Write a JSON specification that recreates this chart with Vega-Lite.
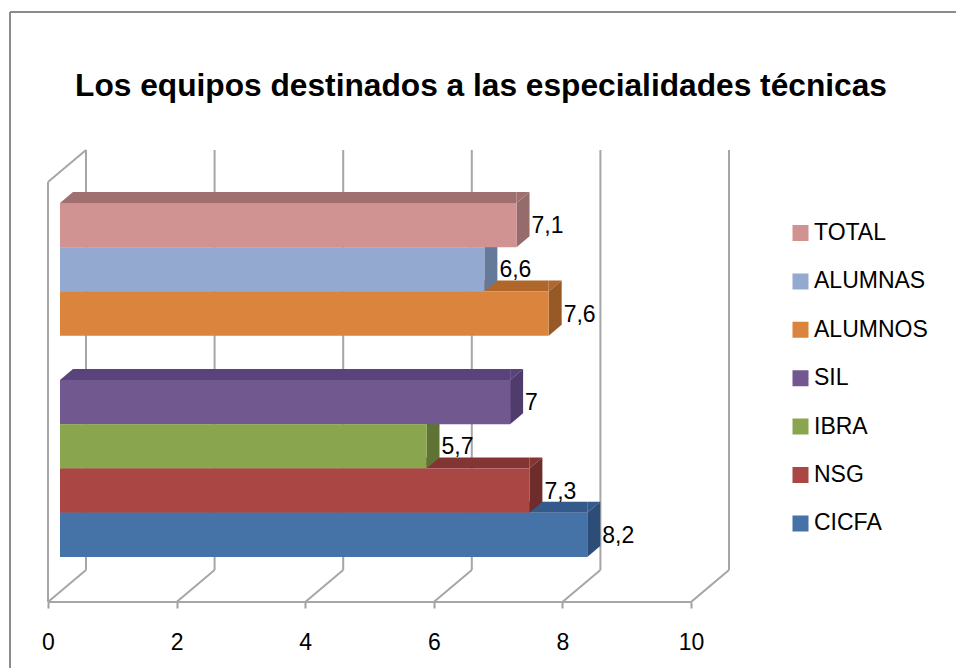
{
"$schema":"https://vega.github.io/schema/vega-lite/v6.json",
"width":681,"height":452,"autosize":"none",
"padding":{"left":48,"top":150,"right":227,"bottom":66},
"background":"white",
"view":{"stroke":null},
"config":{"font":"Liberation Sans"},
"title":{"text":"Los equipos destinados a las especialidades técnicas","fontSize":31.7,"fontWeight":"bold","color":"#000000","font":"Liberation Sans","anchor":"middle","frame":"group","dx":92.5,"offset":-92},
"datasets":{
"barras":[
{"grupo":"TOTAL","valor":7.1,"etiqueta":"7,1"},
{"grupo":"ALUMNAS","valor":6.6,"etiqueta":"6,6"},
{"grupo":"ALUMNOS","valor":7.6,"etiqueta":"7,6"},
{"grupo":"SIL","valor":7,"etiqueta":"7"},
{"grupo":"IBRA","valor":5.7,"etiqueta":"5,7"},
{"grupo":"NSG","valor":7.3,"etiqueta":"7,3"},
{"grupo":"CICFA","valor":8.2,"etiqueta":"8,2"}],
"paredes":[
{"x":0,"x2":0,"y":0,"y2":420},{"x":0,"x2":0.591,"y":420,"y2":452},
{"x":0,"x2":10,"y":0,"y2":0},
{"x":0,"x2":0.591,"y":0,"y2":32},{"x":2,"x2":2.591,"y":0,"y2":32},{"x":4,"x2":4.591,"y":0,"y2":32},{"x":6,"x2":6.591,"y":0,"y2":32},{"x":8,"x2":8.591,"y":0,"y2":32},{"x":10,"x2":10.591,"y":0,"y2":32},
{"x":0.591,"x2":0.591,"y":32,"y2":452},{"x":2.591,"x2":2.591,"y":32,"y2":452},{"x":4.591,"x2":4.591,"y":32,"y2":452},{"x":6.591,"x2":6.591,"y":32,"y2":452},{"x":8.591,"x2":8.591,"y":32,"y2":452},{"x":10.591,"x2":10.591,"y":32,"y2":452}],
"marco":[
{"x":-0.591,"x2":-0.591,"y":-70,"y2":590},{"x":-0.591,"x2":15,"y":590,"y2":590}]
},
"resolve":{"scale":{"y":"independent","color":"independent"}},
"encoding":{},
"layer":[
{"data":{"name":"marco"},"mark":{"type":"rule","stroke":"#8c8c8c","strokeWidth":2},
 "encoding":{"x":{"field":"x","type":"quantitative","scale":{"domain":[0,10.591],"nice":false,"zero":false},
   "axis":{"values":[0,2,4,6,8,10],"domain":false,"grid":false,"tickSize":6,"tickWidth":2,"tickColor":"#a0a0a0","labelFontSize":23,"labelColor":"#000000","labelPadding":23,"labelFlush":false,"labelFont":"Liberation Sans","title":null,"format":"d"}},
  "x2":{"field":"x2"},
  "y":{"field":"y","type":"quantitative","scale":{"domain":[0,452],"nice":false,"zero":false},"axis":null},"y2":{"field":"y2"}}},
{"data":{"name":"paredes"},"mark":{"type":"rule","stroke":"#a6a6a6","strokeWidth":2},
 "encoding":{"x":{"field":"x","type":"quantitative"},"x2":{"field":"x2"},
  "y":{"field":"y","type":"quantitative","scale":{"domain":[0,452],"nice":false,"zero":false},"axis":null},"y2":{"field":"y2"}}},
{"data":{"name":"barras"},"mark":{"type":"bar","height":11,"yOffset":-27.65,"xOffset":12,"x2Offset":25},
 "encoding":{"x":{"field":"valor","type":"quantitative"},"x2":{"datum":0},
  "y":{"field":"grupo","type":"nominal","scale":{"type":"band","domain":["TOTAL","ALUMNAS","ALUMNOS"," ","SIL","IBRA","NSG","CICFA"],"range":[53,407],"paddingInner":0,"paddingOuter":0},"axis":null},
  "color":{"field":"grupo","type":"nominal","legend":null,"scale":{"domain":["TOTAL","ALUMNAS","ALUMNOS","SIL","IBRA","NSG","CICFA"],"range":["#A07070","#7086A8","#B0672C","#59437A","#6C833D","#833533","#335A8A"]}}}},
{"data":{"name":"barras"},"mark":{"type":"point","filled":true,"opacity":1,"size":4,"strokeWidth":0,"xOffset":12,"shape":"M0,-22.15 L13,-33.15 L13,-22.15 Z"},
 "encoding":{"x":{"datum":0,"type":"quantitative"},
  "y":{"field":"grupo","type":"nominal","scale":{"type":"band","domain":["TOTAL","ALUMNAS","ALUMNOS"," ","SIL","IBRA","NSG","CICFA"],"range":[53,407],"paddingInner":0,"paddingOuter":0},"axis":null},
  "color":{"field":"grupo","type":"nominal","legend":null,"scale":{"domain":["TOTAL","ALUMNAS","ALUMNOS","SIL","IBRA","NSG","CICFA"],"range":["#A07070","#7086A8","#B0672C","#59437A","#6C833D","#833533","#335A8A"]}}}},
{"data":{"name":"barras"},"mark":{"type":"point","filled":true,"opacity":1,"size":4,"strokeWidth":0,"xOffset":12,"shape":"M0,-22.15 L0,-33.15 L13,-33.15 Z"},
 "encoding":{"x":{"field":"valor","type":"quantitative"},
  "y":{"field":"grupo","type":"nominal","scale":{"type":"band","domain":["TOTAL","ALUMNAS","ALUMNOS"," ","SIL","IBRA","NSG","CICFA"],"range":[53,407],"paddingInner":0,"paddingOuter":0},"axis":null},
  "color":{"field":"grupo","type":"nominal","legend":null,"scale":{"domain":["TOTAL","ALUMNAS","ALUMNOS","SIL","IBRA","NSG","CICFA"],"range":["#A07070","#7086A8","#B0672C","#59437A","#6C833D","#833533","#335A8A"]}}}},
{"data":{"name":"barras"},"mark":{"type":"point","filled":true,"opacity":1,"size":4,"strokeWidth":0,"xOffset":12,"shape":"M0,-22.15 L13,-33.15 L13,11.15 L0,22.15 Z"},
 "encoding":{"x":{"field":"valor","type":"quantitative"},
  "y":{"field":"grupo","type":"nominal","scale":{"type":"band","domain":["TOTAL","ALUMNAS","ALUMNOS"," ","SIL","IBRA","NSG","CICFA"],"range":[53,407],"paddingInner":0,"paddingOuter":0},"axis":null},
  "color":{"field":"grupo","type":"nominal","legend":null,"scale":{"domain":["TOTAL","ALUMNAS","ALUMNOS","SIL","IBRA","NSG","CICFA"],"range":["#956B6B","#65799A","#975A26","#4F3B6C","#5F7335","#6E2C2A","#2C4D78"]}}}},
{"data":{"name":"barras"},"mark":{"type":"bar","xOffset":12,"x2Offset":12},
 "encoding":{"x":{"field":"valor","type":"quantitative"},"x2":{"datum":0},
  "y":{"field":"grupo","type":"nominal","scale":{"type":"band","domain":["TOTAL","ALUMNAS","ALUMNOS"," ","SIL","IBRA","NSG","CICFA"],"range":[53,407],"paddingInner":0,"paddingOuter":0},"axis":null},
  "color":{"field":"grupo","type":"nominal","scale":{"domain":["TOTAL","ALUMNAS","ALUMNOS","SIL","IBRA","NSG","CICFA"],"range":["#D19392","#93A9CF","#DB843D","#71588F","#89A54E","#AA4643","#4572A7"]},
   "legend":{"title":null,"orient":"none","legendX":741,"legendY":73,"symbolType":"square","symbolSize":256,"symbolStrokeWidth":0,"labelFontSize":23,"labelFont":"Liberation Sans","labelColor":"#000000","labelOffset":2,"clipHeight":20,"rowPadding":25.4}}}},
{"data":{"name":"barras"},"mark":{"type":"text","align":"left","baseline":"middle","fontSize":23,"font":"Liberation Sans","color":"#000000","xOffset":27,"yOffset":1},
 "encoding":{"x":{"field":"valor","type":"quantitative"},
  "y":{"field":"grupo","type":"nominal","scale":{"type":"band","domain":["TOTAL","ALUMNAS","ALUMNOS"," ","SIL","IBRA","NSG","CICFA"],"range":[53,407],"paddingInner":0,"paddingOuter":0},"axis":null},
  "text":{"field":"etiqueta"}}}
]}
